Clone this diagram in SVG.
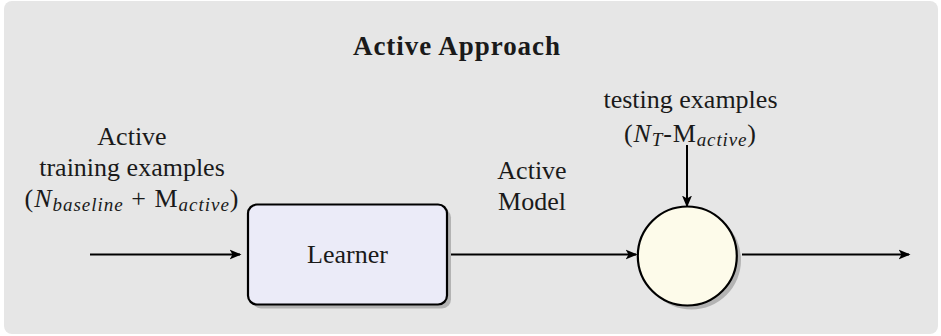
<svg xmlns="http://www.w3.org/2000/svg" width="941" height="336" viewBox="0 0 941 336">
  <style>
    .edge { stroke: #000; stroke-width: 2; fill: none; marker-end: url(#arrow); }
    .shadow { fill: #b3b3b3; }
    .node { stroke: #000; stroke-width: 2.2; }
  </style>
  <defs>
    <marker id="arrow" markerWidth="13" markerHeight="13" refX="10.5" refY="6.5" orient="auto" markerUnits="userSpaceOnUse">
      <path d="M0,1.5 L12,6.5 L0,11.5 L3,6.5 Z" fill="#000"/>
    </marker>
  </defs>

  <!-- panel -->
  <rect x="4" y="1" width="934" height="333" rx="8" fill="#e6e6e6"/>

  <g font-family="Liberation Serif, DejaVu Serif, serif" font-size="27" fill="#1a1a1a">
    <text x="456.5" y="55" text-anchor="middle" font-weight="bold" textLength="207">Active Approach</text>
  </g>

  <!-- connectors -->
  <g id="connectors">
    <line class="edge" x1="90" y1="254.5" x2="240" y2="254.5"/>
    <line class="edge" x1="449" y1="254.5" x2="636" y2="254.5"/>
    <line class="edge" x1="742" y1="254.5" x2="909" y2="254.5"/>
    <line class="edge" x1="687" y1="145" x2="687" y2="206"/>
  </g>

  <!-- input label -->
  <g id="input-label" font-family="Liberation Serif, DejaVu Serif, serif" font-size="26" fill="#1a1a1a" text-anchor="middle">
    <text x="132" y="145">Active</text>
    <text x="132" y="176">training examples</text>
    <text x="131.5" y="207" textLength="214">(<tspan font-style="italic">N</tspan><tspan font-style="italic" font-size="19" dy="4">baseline</tspan><tspan dy="-4"> + M</tspan><tspan font-style="italic" font-size="19" dy="4">active</tspan><tspan dy="-4">)</tspan></text>
  </g>

  <!-- learner node -->
  <g id="learner">
    <rect class="shadow" x="252" y="208.5" width="199" height="100" rx="9"/>
    <rect class="node" x="248" y="204.5" width="199" height="100" rx="9" fill="#ebebf8"/>
    <text x="347.5" y="263" text-anchor="middle" font-family="Liberation Serif, DejaVu Serif, serif" font-size="26" fill="#1a1a1a">Learner</text>
  </g>

  <!-- model label -->
  <g id="model-label" font-family="Liberation Serif, DejaVu Serif, serif" font-size="26" fill="#1a1a1a" text-anchor="middle">
    <text x="532" y="179">Active</text>
    <text x="532" y="210">Model</text>
  </g>

  <!-- testing label -->
  <g id="testing-label" font-family="Liberation Serif, DejaVu Serif, serif" font-size="26" fill="#1a1a1a" text-anchor="middle">
    <text x="690.5" y="108">testing examples</text>
    <text x="690" y="142" textLength="132">(<tspan font-style="italic">N</tspan><tspan font-style="italic" font-size="19" dy="4">T</tspan><tspan dy="-4">-M</tspan><tspan font-style="italic" font-size="19" dy="4">active</tspan><tspan dy="-4">)</tspan></text>
  </g>

  <!-- evaluation node -->
  <g id="evaluator">
    <circle class="shadow" cx="691.5" cy="260" r="49.5"/>
    <circle class="node" cx="687.3" cy="256" r="49.5" fill="#fdfbea"/>
  </g>
</svg>
